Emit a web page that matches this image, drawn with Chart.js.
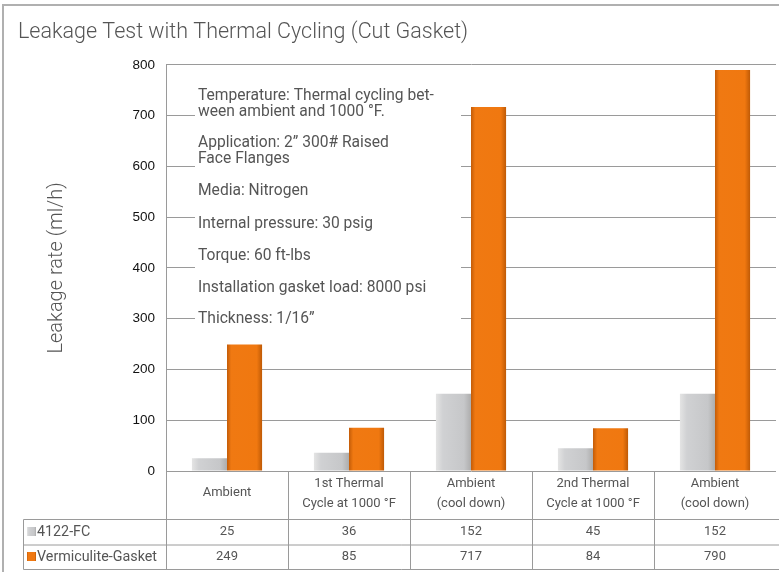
<!DOCTYPE html>
<html><head><meta charset="utf-8">
<script src="https://cdn.jsdelivr.net/npm/chart.js@4/dist/chart.umd.min.js"></script>
<style>html,body{margin:0;padding:0;background:#fff;}#wrap{position:relative;width:779px;height:572px;}</style>
</head><body><div id="wrap"><canvas id="c" width="779" height="572"></canvas></div>
<script>
const titleText = "Leakage Test with Thermal Cycling (Cut Gasket)";
const yAxisTitle = "Leakage rate (ml/h)";
const categories = [["Ambient"], ["1st Thermal", "Cycle at 1000 °F"], ["Ambient", "(cool down)"], ["2nd Thermal", "Cycle at 1000 °F"], ["Ambient", "(cool down)"]];
const seriesNames = ["4122-FC", "Vermiculite-Gasket"];
const fcValues = [25, 36, 152, 45, 152];
const vermValues = [249, 85, 717, 84, 790];
const yTicks = [0, 100, 200, 300, 400, 500, 600, 700, 800];
const notes = [
  ["Temperature: Thermal cycling bet-", "ween ambient and 1000 °F."],
  ["Application: 2\u201D 300# Raised", "Face Flanges"],
  ["Media: Nitrogen"],
  ["Internal pressure: 30 psig"],
  ["Torque: 60 ft-lbs"],
  ["Installation gasket load: 8000 psi"],
  ["Thickness: 1/16\u201D"]
];

const CAT_PCT = 0.575, BAR_PCT = 1.0;
const greyStops = [[0, '#e4e4e4'], [0.2, '#d0d1d3'], [0.8, '#c6c7c9'], [1, '#adadad']];
const orangeStops = [[0, '#c35c08'], [0.12, '#f07912'], [0.85, '#f07810'], [1, '#bf5a06']];
const TXT = '#555555';
const LINE = '#9a9a9a';

function barGradient(ctx, stops) {
  const chart = ctx.chart;
  const xs = chart.scales && chart.scales.x;
  if (ctx.type !== 'data' || !xs || !chart.chartArea) return stops[1][1];
  const catW = xs.width / categories.length;
  const groupW = catW * CAT_PCT;
  const barW = groupW / 2 * BAR_PCT;
  const center = xs.getPixelForValue(ctx.dataIndex);
  const x0 = center - groupW / 2 + ctx.datasetIndex * groupW / 2 + (groupW / 2 - barW) / 2;
  const g = chart.ctx.createLinearGradient(x0, 0, x0 + barW, 0);
  stops.forEach(([o, c]) => g.addColorStop(o, c));
  return g;
}

const decor = {
  id: 'decor',
  beforeDatasetsDraw(chart) {
    const c = chart.ctx, a = chart.chartArea;
    c.save();
    c.fillStyle = '#ffffff';
    c.fillRect(a.left + 29, 80, 266, 255);
    c.restore();
  },
  afterDraw(chart) {
    const c = chart.ctx, a = chart.chartArea, xs = chart.scales.x;
    c.save();
    // frame
    c.strokeStyle = '#b0b0b0';
    c.lineWidth = 2;
    c.beginPath(); c.moveTo(3, 572); c.lineTo(3, 5); c.lineTo(779, 5); c.stroke();
    // notes
    c.fillStyle = TXT;
    c.font = '15.6px Roboto, "Liberation Sans", sans-serif';
    c.textBaseline = 'middle';
    c.textAlign = 'left';
    const noteY = [[96, 112], [143, 159], [191], [224], [256], [288], [319]];
    notes.forEach((grp, i) => grp.forEach((t, j) => c.fillText(t, a.left + 32, noteY[i][j])));
    // table
    const n = categories.length;
    const catW = xs.width / n;
    const bounds = [];
    for (let i = 0; i < n; i++) bounds.push(xs.getPixelForValue(i) - catW / 2);
    const rowTop = 519.5, rowMid = 545, rowBot = 569.5, tableLeft = 23.5;
    c.strokeStyle = LINE; c.lineWidth = 1;
    c.beginPath();
    bounds.forEach(x => { const px = Math.round(x) + 0.5; c.moveTo(px, a.bottom); c.lineTo(px, rowBot); });
    [rowTop, rowMid, rowBot].forEach(y => { c.moveTo(tableLeft, y); c.lineTo(779, y); });
    c.moveTo(tableLeft, rowTop); c.lineTo(tableLeft, rowBot);
    c.stroke();
    c.font = '13px Roboto, "Liberation Sans", sans-serif';
    c.fillStyle = TXT;
    c.textAlign = 'center';
    categories.forEach((lines, i) => {
      const x = xs.getPixelForValue(i);
      if (lines.length === 1) c.fillText(lines[0], x, 493);
      else { c.fillText(lines[0], x, 484); c.fillText(lines[1], x, 504); }
      c.fillText(String(fcValues[i]), x, 532);
      c.fillText(String(vermValues[i]), x, 557);
    });
    // legend column
    c.textAlign = 'left';
    c.font = '14.3px Roboto, "Liberation Sans", sans-serif';
    const sw = [[532, greyStops], [557, orangeStops]];
    sw.forEach(([y, stops], k) => {
      const g = c.createLinearGradient(27, 0, 36, 0);
      stops.forEach(([o, col]) => g.addColorStop(o, col));
      c.fillStyle = g;
      c.fillRect(27, y - 5, 9, 9);
      c.fillStyle = TXT;
      c.fillText(seriesNames[k], 37, y);
    });
    c.restore();
  }
};

new Chart(document.getElementById('c'), {
  type: 'bar',
  data: {
    labels: categories.map(l => l.join(' ')),
    datasets: [
      { label: seriesNames[0], data: fcValues, backgroundColor: ctx => barGradient(ctx, greyStops), borderWidth: 0 },
      { label: seriesNames[1], data: vermValues, backgroundColor: ctx => barGradient(ctx, orangeStops), borderWidth: 0 }
    ]
  },
  options: {
    responsive: false,
    devicePixelRatio: 1,
    animation: false,
    categoryPercentage: CAT_PCT,
    barPercentage: BAR_PCT,
    layout: { padding: { left: 18, right: 3, top: 0, bottom: 101 } },
    plugins: {
      legend: { display: false },
      tooltip: { enabled: false },
      title: {
        display: true, text: titleText, align: 'start', color: '#555',
        font: { family: 'Roboto, "Liberation Sans", sans-serif', size: 21.5, weight: '300' },
        padding: { top: 20, bottom: 19 }
      }
    },
    scales: {
      x: { display: false },
      y: {
        min: 0, max: 800,
        afterFit: s => { s.width = 148; },
        afterBuildTicks: s => { s.ticks = yTicks.map(v => ({ value: v })); },
        ticks: { color: '#111', padding: 11, font: { family: '"Liberation Sans", Arial, sans-serif', size: 13.5 } },
        grid: { color: LINE, drawTicks: false, lineWidth: 1 },
        border: { display: true, color: LINE },
        title: {
          display: true, text: yAxisTitle, color: TXT,
          font: { family: 'Roboto, "Liberation Sans", sans-serif', size: 20, weight: '300' },
          padding: { top: 27, bottom: 0 }
        }
      }
    }
  },
  plugins: [decor]
});
</script></body></html>
